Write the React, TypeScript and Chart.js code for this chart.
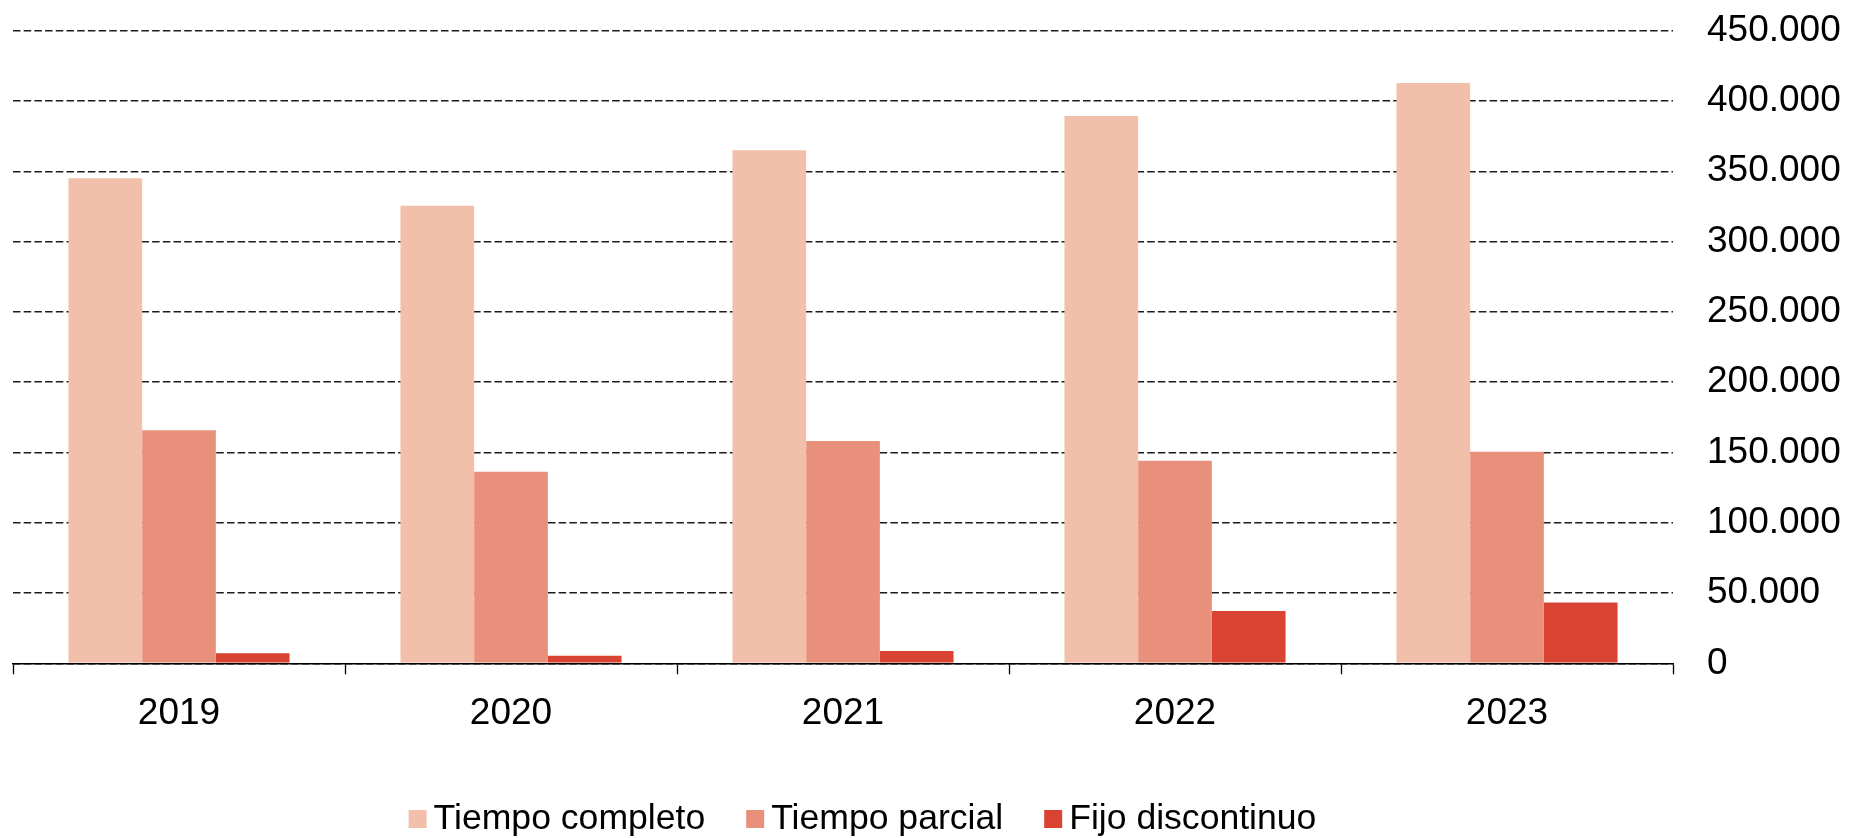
import React, { useEffect, useRef } from 'react';
import { Chart, registerables } from 'chart.js';

Chart.register(...registerables);

const years = ['2019', '2020', '2021', '2022', '2023'];
const tiempoCompleto = [345000, 325500, 365000, 389300, 412800];
const tiempoParcial = [165700, 136300, 158100, 144000, 150400];
const fijoDiscontinuo = [7100, 5400, 8700, 37200, 43200];
const seriesLabels = ['Tiempo completo', 'Tiempo parcial', 'Fijo discontinuo'];
const seriesColors = ['#F2C0AA', '#E8907B', '#D94332'];
const yMin = 0;
const yMax = 450000;
const yStep = 50000;

const FONT_FAMILY = '"Liberation Sans", Arial, Helvetica, sans-serif';

const formatThousands = (v: number) =>
  String(Math.round(v)).replace(/\B(?=(\d{3})+(?!\d))/g, '.');

const legendPlugin = {
  id: 'customLegend',
  afterDraw(chart: any) {
    const ctx = chart.ctx as CanvasRenderingContext2D;
    ctx.save();
    ctx.font = `35.6px ${FONT_FAMILY}`;
    const box = 18;
    const gap = 7;
    const itemGap = 41;
    const items = chart.data.datasets.map((ds: any) => ({
      label: ds.label as string,
      color: ds.backgroundColor as string,
      w: ctx.measureText(ds.label).width,
    }));
    const total =
      items.reduce((s: number, it: any) => s + box + gap + it.w, 0) +
      itemGap * (items.length - 1);
    const ca = chart.chartArea;
    let x = (ca.left + ca.right) / 2 + 19.5 - total / 2;
    const yc = chart.height - 19;
    ctx.textBaseline = 'middle';
    ctx.textAlign = 'left';
    for (const it of items) {
      ctx.fillStyle = it.color;
      ctx.fillRect(x, yc - box / 2, box, box);
      ctx.fillStyle = '#000';
      ctx.fillText(it.label, x + box + gap, yc);
      x += box + gap + it.w + itemGap;
    }
    ctx.restore();
  },
};

export default function App() {
  const canvasRef = useRef<HTMLCanvasElement | null>(null);

  useEffect(() => {
    document.body.style.margin = '0';
    const canvas = canvasRef.current;
    if (!canvas) return;
    const datasetValues = [tiempoCompleto, tiempoParcial, fijoDiscontinuo];
    const chart = new Chart(canvas, {
      type: 'bar',
      data: {
        labels: years,
        datasets: seriesLabels.map((label, i) => ({
          label,
          data: datasetValues[i],
          backgroundColor: seriesColors[i],
          borderWidth: 0,
          barPercentage: 1,
          categoryPercentage: 0.666,
        })),
      },
      options: {
        responsive: false,
        animation: false,
        devicePixelRatio: 1,
        layout: {
          padding: { left: 13, top: 30.7, right: 0, bottom: 104.7 },
        },
        plugins: {
          legend: { display: false },
          tooltip: { enabled: false },
        },
        scales: {
          x: {
            grid: {
              display: true,
              drawOnChartArea: false,
              drawTicks: true,
              tickLength: 11,
              tickColor: '#000',
              tickWidth: 1.3,
              offset: true,
            },
            border: { display: true, color: '#000', width: 1.5 },
            ticks: {
              color: '#000',
              padding: 17,
              font: { family: FONT_FAMILY, size: 37 },
              maxRotation: 0,
            },
            afterFit: (scale: any) => {
              scale.height = 70;
              scale.paddingLeft = 0;
              scale.paddingRight = 0;
            },
          },
          y: {
            position: 'right',
            min: yMin,
            max: yMax,
            grid: {
              display: true,
              drawTicks: false,
              color: '#1c1c1c',
              lineWidth: 1.5,
            },
            border: { display: false, dash: [7.5, 3.2] },
            ticks: {
              stepSize: yStep,
              color: '#000',
              padding: 34,
              font: { family: FONT_FAMILY, size: 37 },
              callback: (v: any) => formatThousands(Number(v)),
            },
            afterFit: (scale: any) => {
              scale.width = 181;
              scale.paddingTop = 0;
              scale.paddingBottom = 0;
            },
          },
        },
      },
      plugins: [legendPlugin],
    });
    return () => chart.destroy();
  }, []);

  return (
    <div style={{ width: 1854, height: 838 }}>
      <canvas ref={canvasRef} width={1854} height={838} style={{ display: 'block' }} />
    </div>
  );
}
